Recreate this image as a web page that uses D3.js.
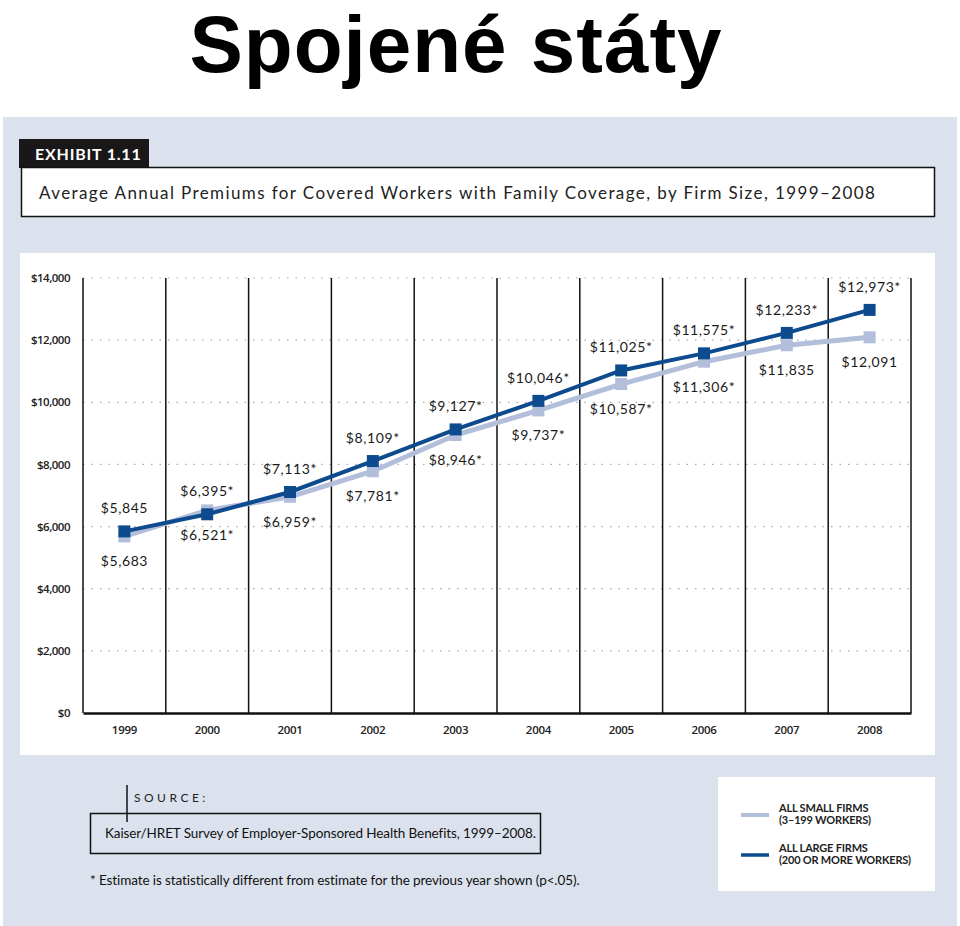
<!DOCTYPE html>
<html>
<head>
<meta charset="utf-8">
<script src="https://cdn.jsdelivr.net/npm/d3@7"></script>
<style>
  body { margin: 0; background: #fff; }
  svg text { font-family: "Lato", "Open Sans", sans-serif; }
</style>
</head>
<body>
<div id="chart"></div>
<script>
// data
var years = ["1999", "2000", "2001", "2002", "2003", "2004", "2005", "2006", "2007", "2008"];
var largeFirms = [5845, 6395, 7113, 8109, 9127, 10046, 11025, 11575, 12233, 12973];
var largeStar = [false, true, true, true, true, true, true, true, true, true];
var smallFirms = [5683, 6521, 6959, 7781, 8946, 9737, 10587, 11306, 11835, 12091];
var smallStar = [false, true, true, true, true, true, true, true, false, false];
var yTicks = [0, 2000, 4000, 6000, 8000, 10000, 12000, 14000];

var darkColor = "#0d4a8e";
var lightColor = "#b3bedb";

var svg = d3.select("#chart").append("svg")
  .attr("width", 960)
  .attr("height", 926);

// big title
svg.append("text")
  .attr("x", 456).attr("y", 72)
  .attr("text-anchor", "middle")
  .style("font-family", "'Liberation Sans', Arial, sans-serif")
  .style("font-weight", "bold")
  .style("font-size", "80px")
  .style("letter-spacing", "1px")
  .text("Spojené státy");

// panel
svg.append("rect").attr("x", 3).attr("y", 117).attr("width", 954).attr("height", 809).attr("fill", "#dce2ed");

// exhibit tag
svg.append("rect").attr("x", 19).attr("y", 139).attr("width", 130).attr("height", 29).attr("fill", "#1a1718");
svg.append("text").attr("x", 35).attr("y", 160)
  .attr("fill", "#fff").style("font-weight", "bold").style("font-size", "16px").style("letter-spacing", "0.8px")
  .text("EXHIBIT 1.11");

// title box
svg.append("rect").attr("x", 21.5).attr("y", 167.5).attr("width", 913).attr("height", 49)
  .attr("fill", "#fff").attr("stroke", "#111").attr("stroke-width", 1.5);
svg.append("text").attr("x", 39).attr("y", 199)
  .attr("fill", "#222").style("font-size", "17px").style("letter-spacing", "1.4px")
  .text("Average Annual Premiums for Covered Workers with Family Coverage, by Firm Size, 1999\u20132008");

// chart area
svg.append("rect").attr("x", 20).attr("y", 253).attr("width", 915).attr("height", 502).attr("fill", "#fff");

var x0 = 83, x1 = 911, yTop = 278, yBot = 713;

var x = d3.scaleBand().domain(years).range([x0, x1]);
var y = d3.scaleLinear().domain([0, 14000]).range([yBot, yTop]);

var fmt = d3.format(",");

// dotted gridlines
svg.append("g").selectAll("line")
  .data(yTicks.filter(function (d) { return d > 0; }))
  .join("line")
  .attr("x1", x0).attr("x2", x1)
  .attr("y1", function (d) { return y(d); })
  .attr("y2", function (d) { return y(d); })
  .attr("stroke", "#aaa")
  .attr("stroke-width", 1.2)
  .attr("stroke-dasharray", "1.5,7");

// vertical year dividers
var edges = years.map(function (d) { return x(d); }).concat([x1]);
svg.append("g").selectAll("line")
  .data(edges)
  .join("line")
  .attr("x1", function (d) { return d; }).attr("x2", function (d) { return d; })
  .attr("y1", yTop).attr("y2", yBot)
  .attr("stroke", "#111").attr("stroke-width", 1.5);

// y axis
var yAxis = svg.append("g")
  .attr("transform", "translate(" + (x0 - 10) + ",0)")
  .call(d3.axisLeft(y).tickValues(yTicks).tickSize(0).tickFormat(function (d) { return "$" + fmt(d); }));
yAxis.select(".domain").remove();
yAxis.selectAll("text").style("font-size", "11.5px").style("font-family", "'Open Sans', sans-serif")
  .style("font-weight", "600").attr("fill", "#222").style("letter-spacing", "-0.5px");

// x axis
var xAxis = svg.append("g")
  .attr("transform", "translate(0," + yBot + ")")
  .call(d3.axisBottom(x).tickSize(0).tickPadding(13));
xAxis.select(".domain").attr("stroke", "#111").attr("stroke-width", 2.5);
xAxis.selectAll("text").style("font-size", "11.5px").style("font-family", "'Open Sans', sans-serif")
  .style("font-weight", "600").attr("fill", "#222").style("letter-spacing", "-0.3px");

function cx(i) { return x(years[i]) + x.bandwidth() / 2; }

var line = d3.line()
  .x(function (d, i) { return cx(i); })
  .y(function (d) { return y(d); });

// small firms
svg.append("path").datum(smallFirms)
  .attr("d", line).attr("fill", "none")
  .attr("stroke", lightColor).attr("stroke-width", 5);
svg.append("g").selectAll("rect")
  .data(smallFirms).join("rect")
  .attr("x", function (d, i) { return cx(i) - 6; })
  .attr("y", function (d) { return y(d) - 6; })
  .attr("width", 12).attr("height", 12)
  .attr("fill", lightColor);

// large firms
svg.append("path").datum(largeFirms)
  .attr("d", line).attr("fill", "none")
  .attr("stroke", darkColor).attr("stroke-width", 4);
svg.append("g").selectAll("rect")
  .data(largeFirms).join("rect")
  .attr("x", function (d, i) { return cx(i) - 6; })
  .attr("y", function (d) { return y(d) - 6; })
  .attr("width", 12).attr("height", 12)
  .attr("fill", darkColor);

// value labels: large above, small below
svg.append("g").selectAll("text")
  .data(largeFirms).join("text")
  .attr("x", function (d, i) { return cx(i); })
  .attr("y", function (d) { return y(d) - 18; })
  .attr("text-anchor", "middle")
  .style("font-size", "14px").style("letter-spacing", "0.6px").attr("fill", "#1a1a1a")
  .text(function (d, i) { return "$" + fmt(d) + (largeStar[i] ? "*" : ""); });

svg.append("g").selectAll("text")
  .data(smallFirms).join("text")
  .attr("x", function (d, i) { return cx(i); })
  .attr("y", function (d) { return y(d) + 30; })
  .attr("text-anchor", "middle")
  .style("font-size", "14px").style("letter-spacing", "0.6px").attr("fill", "#1a1a1a")
  .text(function (d, i) { return "$" + fmt(d) + (smallStar[i] ? "*" : ""); });

// source
svg.append("line").attr("x1", 127).attr("x2", 127).attr("y1", 785).attr("y2", 822)
  .attr("stroke", "#111").attr("stroke-width", 1.5);
svg.append("text").attr("x", 134).attr("y", 802)
  .style("font-size", "12px").style("letter-spacing", "3.5px").attr("fill", "#222")
  .text("SOURCE:");
svg.append("rect").attr("x", 90.5).attr("y", 813.5).attr("width", 450).attr("height", 40)
  .attr("fill", "none").attr("stroke", "#111").attr("stroke-width", 1.5);
svg.append("text").attr("x", 105).attr("y", 838)
  .style("font-size", "13.5px").style("letter-spacing", "-0.1px").attr("fill", "#111")
  .text("Kaiser/HRET Survey of Employer-Sponsored Health Benefits, 1999\u20132008.");
svg.append("text").attr("x", 90).attr("y", 885)
  .style("font-size", "13.5px").style("letter-spacing", "-0.1px").attr("fill", "#111")
  .text("* Estimate is statistically different from estimate for the previous year shown (p<.05).");

// legend
svg.append("rect").attr("x", 718).attr("y", 777).attr("width", 217).attr("height", 114).attr("fill", "#fff");
var legendItems = [
  { color: lightColor, w: 4, l1: "ALL SMALL FIRMS", l2: "(3\u2013199 WORKERS)", y: 815 },
  { color: darkColor, w: 3.5, l1: "ALL LARGE FIRMS", l2: "(200 OR MORE WORKERS)", y: 855 }
];
var lg = svg.append("g").selectAll("g").data(legendItems).join("g");
lg.append("line")
  .attr("x1", 741).attr("x2", 769)
  .attr("y1", function (d) { return d.y; }).attr("y2", function (d) { return d.y; })
  .attr("stroke", function (d) { return d.color; }).attr("stroke-width", function (d) { return d.w; });
lg.append("text").attr("x", 779).attr("y", function (d) { return d.y - 3; })
  .style("font-size", "11px").style("font-weight", "bold").style("letter-spacing", "-0.2px").attr("fill", "#222")
  .text(function (d) { return d.l1; });
lg.append("text").attr("x", 779).attr("y", function (d) { return d.y + 9; })
  .style("font-size", "11px").style("font-weight", "bold").style("letter-spacing", "-0.2px").attr("fill", "#222")
  .text(function (d) { return d.l2; });
</script>
</body>
</html>
